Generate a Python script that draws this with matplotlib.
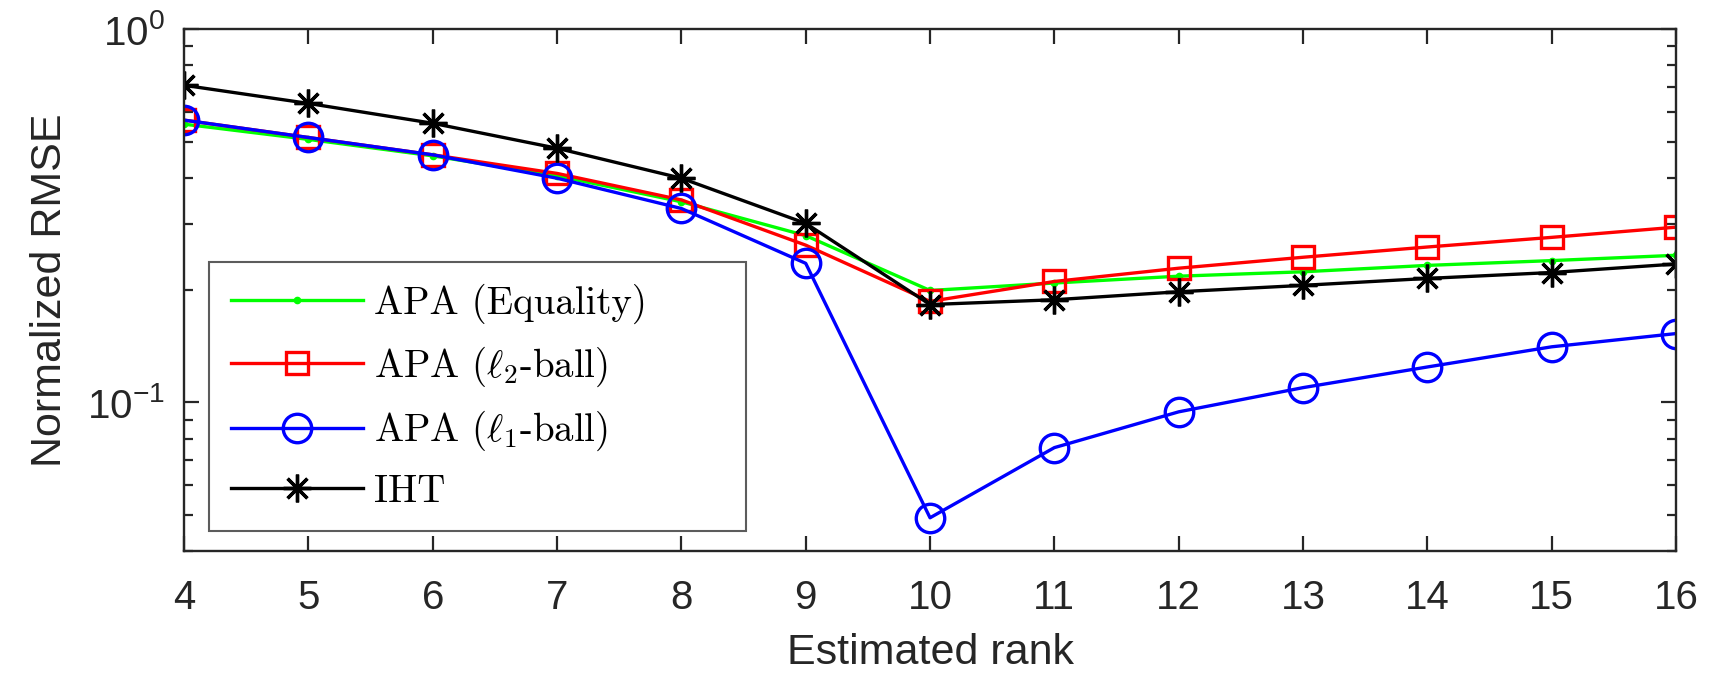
import matplotlib
matplotlib.use("Agg")
import matplotlib.pyplot as plt
from matplotlib.ticker import LogLocator, FixedLocator, NullFormatter

ranks = [4, 5, 6, 7, 8, 9, 10, 11, 12, 13, 14, 15, 16]
apa_eq = [0.557, 0.507, 0.458, 0.405, 0.345, 0.280, 0.1996, 0.209, 0.218, 0.224, 0.233, 0.240, 0.248]
apa_l2 = [0.571, 0.513, 0.461, 0.411, 0.349, 0.264, 0.1866, 0.211, 0.229, 0.245, 0.261, 0.277, 0.295]
apa_l1 = [0.571, 0.513, 0.461, 0.399, 0.331, 0.236, 0.0491, 0.0757, 0.0944, 0.1096, 0.1245, 0.141, 0.153]
iht = [0.708, 0.633, 0.560, 0.480, 0.399, 0.302, 0.183, 0.1885, 0.198, 0.206, 0.215, 0.223, 0.235]
labels = [r"APA (Equality)", r"APA ($\ell_2$-ball)", r"APA ($\ell_1$-ball)", r"IHT"]
ytick_vals = [0.1, 1.0]
ytick_labels = [r"$\mathregular{10^{-1}}$", r"$\mathregular{10^{0}}$"]
xlabel = "Estimated rank"
ylabel = "Normalized RMSE"

plt.rcParams["font.family"] = ["Liberation Sans", "DejaVu Sans"]
plt.rcParams["mathtext.fontset"] = "cm"

fig = plt.figure(figsize=(17.09, 6.91), dpi=100)
ax = fig.add_axes([0.1077, 0.2026, 0.873, 0.755])

lw = 2.4
mew = 2.4
ax.plot(ranks, apa_eq, color="#00ff00", lw=lw, marker=".", ms=9, label=labels[0])
ax.plot(ranks, apa_l2, color="#ff0000", lw=lw, marker="s", ms=15.5, mfc="none", mew=mew, label=labels[1])
ax.plot(ranks, apa_l1, color="#0000ff", lw=lw, marker="o", ms=20.5, mfc="none", mew=mew, label=labels[2])
ax.plot(ranks, iht, color="#000000", lw=lw, marker=(8, 2, 0), ms=20, mew=mew, label=labels[3])

ax.set_yscale("log")
ax.set_ylim(0.04, 1.0)
ax.set_xlim(4, 16)
ax.set_xticks(ranks)
ax.set_xticklabels([str(r) for r in ranks])
ax.yaxis.set_major_locator(FixedLocator(ytick_vals))
ax.set_yticklabels(ytick_labels)
ax.yaxis.set_minor_locator(LogLocator(base=10, subs=range(2, 10)))
ax.yaxis.set_minor_formatter(NullFormatter())

ax.tick_params(which="both", direction="in", top=True, right=True, width=1.6,
               colors="#262626", labelsize=29, labelcolor="#262626")
ax.tick_params(which="major", length=10.5)
ax.tick_params(which="minor", length=6.5)
ax.tick_params(axis="x", which="major", pad=20)
ax.tick_params(axis="y", which="major", pad=14)
for s in ax.spines.values():
    s.set_linewidth(1.7)
    s.set_color("#262626")

ax.set_xlabel(xlabel, fontsize=31, color="#262626", labelpad=12)
ax.set_ylabel(ylabel, fontsize=31, color="#262626", labelpad=12)

leg = ax.legend(loc="upper left", bbox_to_anchor=(0.0168, 0.046, 0.360, 0.508), mode="expand",
                prop={"family": "cmr10", "size": 28}, frameon=True, fancybox=False,
                edgecolor="#333333", handlelength=3.4, handletextpad=0.3, borderpad=0.55,
                labelspacing=0.53, borderaxespad=0)
leg.get_frame().set_linewidth(1.5)

fig.savefig("out.png", dpi=100)
